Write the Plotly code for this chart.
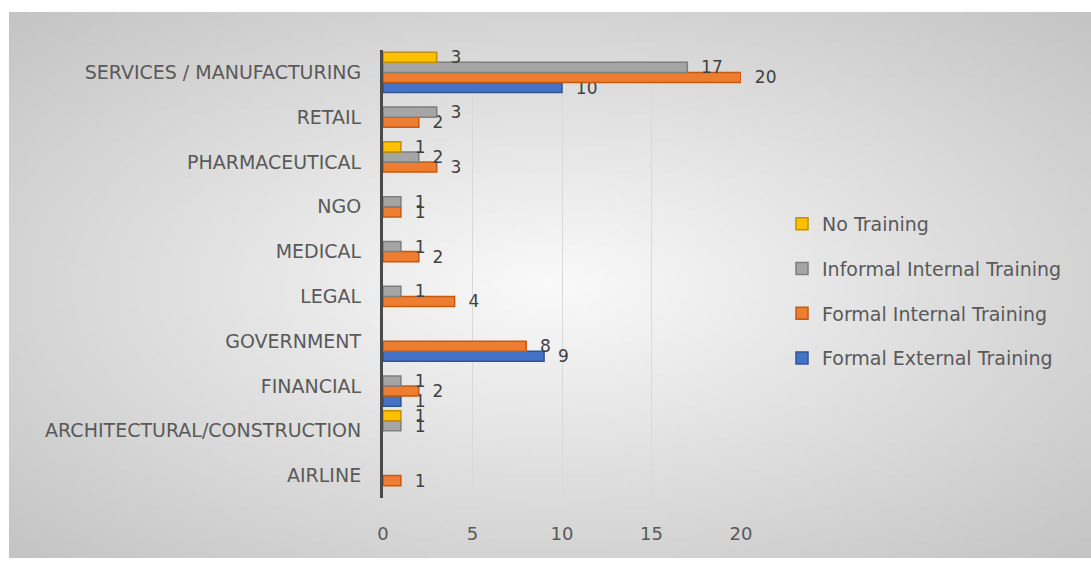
import base64, struct, zlib
import numpy as np
import plotly.graph_objects as go

categories = ["AIRLINE", "ARCHITECTURAL/CONSTRUCTION", "FINANCIAL", "GOVERNMENT", "LEGAL",
              "MEDICAL", "NGO", "PHARMACEUTICAL", "RETAIL", "SERVICES / MANUFACTURING"]
formal_external = [None, None, 1, 9, None, None, None, None, None, 10]
formal_internal = [1, None, 2, 8, 4, 2, 1, 3, 2, 20]
informal_internal = [None, 1, 1, None, 1, 1, 1, 2, 3, 17]
no_training = [None, 1, None, None, None, None, None, 1, None, 3]
x_ticks = [0, 5, 10, 15, 20]

series = [
    ("Formal External Training", formal_external, "#4472C4", "#2F5597", 4),
    ("Formal Internal Training", formal_internal, "#ED7D31", "#C55A11", 3),
    ("Informal Internal Training", informal_internal, "#A5A5A5", "#7F7F7F", 2),
    ("No Training", no_training, "#FFC000", "#BF9000", 1),
]

FONT = "DejaVu Sans"

# radial gradient background image
def gradient_png(w=240, h=120):
    yy, xx = np.mgrid[0:h, 0:w]
    cx, cy = (w - 1) * 0.5, (h - 1) * 0.5
    d = np.sqrt(((xx - cx) / cx) ** 2 + ((yy - cy) / cy) ** 2)
    c = 250 - 38 * d
    arr = np.clip(c, 0, 255).astype(np.uint8)
    raw = b"".join(b"\x00" + arr[i].tobytes() for i in range(h))
    def chunk(t, data):
        return struct.pack(">I", len(data)) + t + data + struct.pack(">I", zlib.crc32(t + data) & 0xffffffff)
    png = b"\x89PNG\r\n\x1a\n" + chunk(b"IHDR", struct.pack(">IIBBBBB", w, h, 8, 0, 0, 0, 0)) \
        + chunk(b"IDAT", zlib.compress(raw, 9)) + chunk(b"IEND", b"")
    return "data:image/png;base64," + base64.b64encode(png).decode()

fig = go.Figure()
for name, vals, col, lcol, rank in series:
    fig.add_trace(go.Bar(
        y=categories, x=vals, name=name, orientation="h",
        marker=dict(color=col, line=dict(color=lcol, width=1.5)),
        text=["" if v is None else "\u00a0\u00a0" + str(v) for v in vals],
        textposition="outside", cliponaxis=False, constraintext="none",
        textfont=dict(family=FONT, size=17, color="#404040"),
        legendgroup=name, legendrank=rank,
    ))

W, H = 1091, 562
L, R, T, B = 383, 350, 50, 64
pw, ph = W - L - R, H - T - B

fig.update_layout(
    width=W, height=H,
    margin=dict(l=L, r=R, t=T, b=B),
    paper_bgcolor="white", plot_bgcolor="rgba(0,0,0,0)",
    barmode="group", bargap=0.1, bargroupgap=0,
    font=dict(family=FONT, color="#595959"),
    showlegend=True,
    legend=dict(
        x=(782 - L) / pw, y=(H - B - 205) / ph, xanchor="left", yanchor="top",
        traceorder="grouped", tracegroupgap=17,
        font=dict(family=FONT, size=19, color="#595959"),
        bgcolor="rgba(0,0,0,0)", itemwidth=30,
    ),
    xaxis=dict(
        range=[0, 20], tickvals=x_ticks, showgrid=True, gridcolor="#D9D9D9", gridwidth=1,
        zeroline=False, showline=False, ticks="", ticklabelstandoff=23,
        tickfont=dict(family=FONT, size=18, color="#595959"),
    ),
    yaxis=dict(
        range=[-0.5, 9.5], showline=True, linecolor="#4a4a4a", linewidth=3,
        showgrid=False, ticks="", ticklabelstandoff=15,
        tickfont=dict(family=FONT, size=19, color="#595959"),
    ),
    images=[dict(
        source=gradient_png(), xref="paper", yref="paper",
        x=(9 - L) / pw, y=(H - B - 12) / ph,
        sizex=(W - 9) / pw, sizey=(558 - 12) / ph,
        sizing="stretch", xanchor="left", yanchor="top", layer="below",
    )],
)

fig.write_html("out.html")
